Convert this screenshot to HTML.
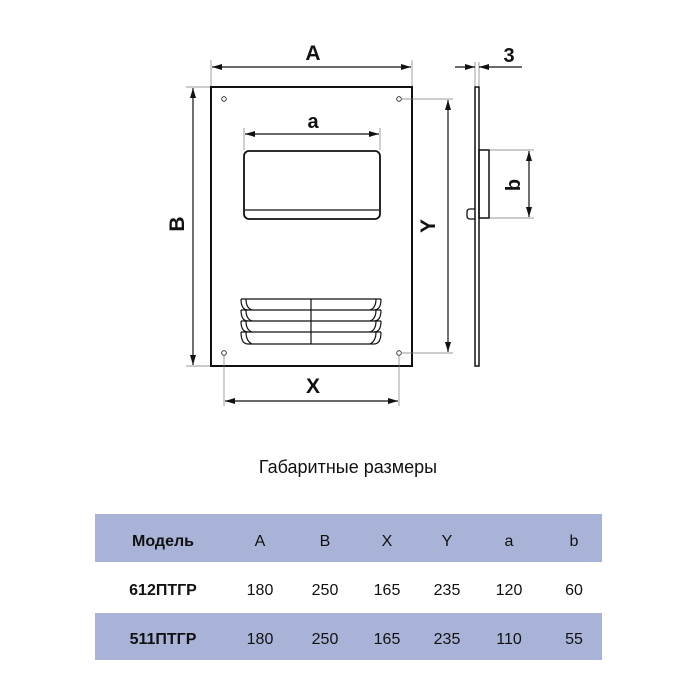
<!DOCTYPE html>
<html><head><meta charset="utf-8"><style>
body{margin:0;background:#fff;width:700px;height:700px;overflow:hidden}
svg{position:absolute;left:0;top:0}
</style></head><body>
<svg width="700" height="700" viewBox="0 0 700 700" xmlns="http://www.w3.org/2000/svg">
<defs>
<marker id="ar" viewBox="0 0 10 6" refX="10" refY="3" markerWidth="10" markerHeight="6" orient="auto-start-reverse" markerUnits="userSpaceOnUse">
<path d="M0,0 L10,3 L0,6 z" fill="#111"/></marker>
</defs>
<g fill="none" stroke="#111">
<rect x="211" y="87" width="201" height="279" stroke-width="2"/>
<circle cx="224" cy="99" r="2.3" stroke-width="0.8"/>
<circle cx="399" cy="99" r="2.3" stroke-width="0.8"/>
<circle cx="224" cy="353" r="2.3" stroke-width="0.8"/>
<circle cx="399" cy="353" r="2.3" stroke-width="0.8"/>
<rect x="244" y="151" width="136" height="68" rx="5" stroke-width="1.8"/>
<line x1="245" y1="210" x2="379" y2="210" stroke-width="1.2"/>
<g stroke-width="1.2">
<path d="M241,299 H381 M241,310 H381 M241,321 H381 M241,332 H381"/>
<path d="M241,299 Q241,310 248,310 M381,299 Q381,310 374,310"/>
<path d="M241,310 Q241,321 248,321 M381,310 Q381,321 374,321"/>
<path d="M241,321 Q241,332 248,332 M381,321 Q381,332 374,332"/>
<path d="M241,332 Q241,344 248,344 H374 Q381,344 381,332"/>
<path d="M246,299 Q246,308 252,310 M376,299 Q376,308 370,310"/>
<path d="M246,310 Q246,319 252,321 M376,310 Q376,319 370,321"/>
<path d="M246,321 Q246,330 252,332 M376,321 Q376,330 370,332"/>
<path d="M246,332 Q246,341 252,344 M376,332 Q376,341 370,344"/>
<line x1="311" y1="299" x2="311" y2="344"/>
</g>
<g stroke="#777" stroke-width="0.7">
<line x1="211" y1="60" x2="211" y2="86"/>
<line x1="412" y1="60" x2="412" y2="86"/>
<line x1="186" y1="87" x2="210" y2="87"/>
<line x1="186" y1="366" x2="210" y2="366"/>
<line x1="401" y1="99" x2="453" y2="99"/>
<line x1="401" y1="353" x2="453" y2="353"/>
<line x1="224" y1="356" x2="224" y2="406"/>
<line x1="399" y1="356" x2="399" y2="406"/>
<line x1="244" y1="128" x2="244" y2="150"/>
<line x1="380" y1="128" x2="380" y2="150"/>
<line x1="475" y1="62" x2="475" y2="86"/>
<line x1="479" y1="62" x2="479" y2="86"/>
<line x1="490" y1="150" x2="534" y2="150"/>
<line x1="490" y1="218" x2="534" y2="218"/>
</g>
<g stroke-width="1.2">
<line x1="212" y1="67" x2="411" y2="67" marker-start="url(#ar)" marker-end="url(#ar)"/>
<line x1="245" y1="134" x2="379" y2="134" marker-start="url(#ar)" marker-end="url(#ar)"/>
<line x1="193" y1="88" x2="193" y2="365" marker-start="url(#ar)" marker-end="url(#ar)"/>
<line x1="448" y1="100" x2="448" y2="352" marker-start="url(#ar)" marker-end="url(#ar)"/>
<line x1="225" y1="401" x2="398" y2="401" marker-start="url(#ar)" marker-end="url(#ar)"/>
<line x1="529" y1="151" x2="529" y2="217" marker-start="url(#ar)" marker-end="url(#ar)"/>
<line x1="455" y1="67" x2="475" y2="67" marker-end="url(#ar)"/>
<line x1="522" y1="67" x2="479" y2="67" marker-end="url(#ar)"/>
</g>
<rect x="475" y="87" width="4" height="279" stroke-width="1.5"/>
<rect x="479" y="150" width="10" height="68" stroke-width="1.5"/>
<path d="M475,209 H470 Q467,209 467,212 V216 Q467,219 470,219 H475" stroke-width="1.3"/>
</g>
<g font-family="Liberation Sans, sans-serif" font-weight="bold" fill="#111" text-anchor="middle">
<text x="313" y="60" font-size="21">A</text>
<text x="313" y="128" font-size="20">a</text>
<text x="313" y="393" font-size="21">X</text>
<text x="509" y="62" font-size="20">3</text>
<text transform="translate(184,224) rotate(-90)" font-size="21">B</text>
<text transform="translate(435,226) rotate(-90)" font-size="21">Y</text>
<text transform="translate(520,185) rotate(-90)" font-size="20">b</text>
</g>
<rect x="95" y="514" width="507" height="48" fill="#a9b3d7"/>
<rect x="95" y="613" width="507" height="47" fill="#a9b3d7"/>
<g font-family="Liberation Sans, sans-serif" fill="#111" text-anchor="middle" font-size="16">
<text x="348" y="473" font-size="18">Габаритные размеры</text>
<g font-weight="bold">
<text x="163" y="546">Модель</text>
<text x="163" y="595">612ПТГР</text>
<text x="163" y="644">511ПТГР</text>
</g>
<text x="260" y="546">A</text><text x="325" y="546">B</text><text x="387" y="546">X</text><text x="447" y="546">Y</text><text x="509" y="546">a</text><text x="574" y="546">b</text>
<text x="260" y="595">180</text><text x="325" y="595">250</text><text x="387" y="595">165</text><text x="447" y="595">235</text><text x="509" y="595">120</text><text x="574" y="595">60</text>
<text x="260" y="644">180</text><text x="325" y="644">250</text><text x="387" y="644">165</text><text x="447" y="644">235</text><text x="509" y="644">110</text><text x="574" y="644">55</text>
</g>
</svg>
</body></html>
